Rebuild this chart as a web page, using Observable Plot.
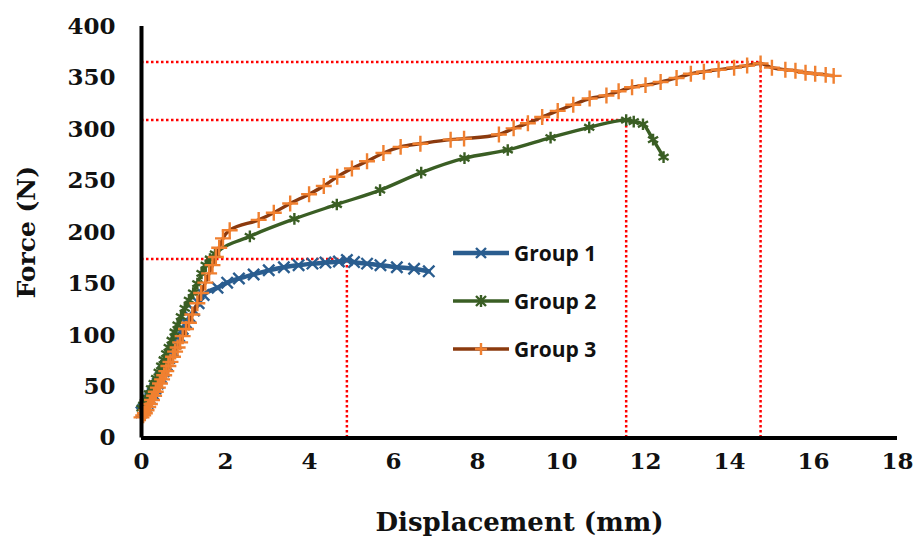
<!DOCTYPE html>
<html>
<head>
<meta charset="utf-8">
<script src="https://cdn.jsdelivr.net/npm/d3@7"></script>
<script src="https://cdn.jsdelivr.net/npm/@observablehq/plot@0.6"></script>
<style>
  html, body { margin: 0; padding: 0; background: #fff; }
  #wrap { position: relative; width: 919px; height: 541px; overflow: hidden; }
  #legend { position: absolute; left: 452px; top: 240px; font-family: "Open Sans", "Liberation Sans", sans-serif; font-weight: 700; font-size: 21px; color: #111; }
  .row { display: flex; align-items: center; height: 26px; margin-bottom: 22px; }
  .row svg { margin-right: 4px; }
</style>
</head>
<body>
<div id="wrap"><div id="legend"></div></div>
<script>
// ---- data (displacement mm, force N) ----
const seriesNames = ["Group 1", "Group 2", "Group 3"];
const lineColors = ["#2A5D8F", "#3A5E24", "#8B3A0E"];
const markerColors = ["#2A5D8F", "#3A5E24", "#F08030"];
const markerSymbols = ["times", "asterisk", "plus"];

const xTicks = [0, 2, 4, 6, 8, 10, 12, 14, 16, 18];
const yTicks = [0, 50, 100, 150, 200, 250, 300, 350, 400];

const group1 = [
  [0, 25], [0.05, 28], [0.1, 31], [0.15, 34], [0.21, 38], [0.27, 43], [0.33, 48], [0.39, 53],
  [0.46, 59], [0.53, 65], [0.6, 71], [0.67, 78], [0.74, 85], [0.82, 92], [0.9, 99], [0.98, 106],
  [1.06, 112], [1.15, 118], [1.25, 124], [1.36, 131], [1.48, 139], [1.81, 146], [2.04, 151],
  [2.32, 155], [2.67, 159], [3.03, 163], [3.39, 166], [3.74, 168], [4.07, 169.5], [4.38, 170.5],
  [4.7, 171.5], [4.89, 173], [5.06, 171], [5.37, 169.5], [5.69, 168], [6.08, 166], [6.49, 164.5],
  [6.84, 162]
];
const group2 = [
  [0, 29], [0.04, 32], [0.08, 35], [0.13, 39], [0.18, 43], [0.23, 48], [0.29, 53], [0.35, 58],
  [0.41, 64], [0.47, 70], [0.53, 76], [0.59, 82], [0.65, 88], [0.72, 95], [0.79, 103], [0.86, 110],
  [0.94, 118], [1.03, 126], [1.13, 134], [1.23, 141], [1.33, 150], [1.43, 160], [1.53, 168],
  [1.63, 174], [1.75, 179], [2.58, 196], [3.64, 213], [4.65, 227], [5.68, 241], [6.66, 258],
  [7.69, 272], [8.72, 280], [9.74, 292], [10.66, 302], [11.54, 309], [11.72, 307.5], [11.94, 305],
  [12.18, 290], [12.43, 273]
];
const group3 = [
  [0, 20], [0.04, 22], [0.08, 24], [0.12, 27], [0.16, 30], [0.2, 33], [0.25, 37], [0.3, 41],
  [0.34, 45], [0.39, 49], [0.44, 53], [0.49, 57], [0.54, 61], [0.59, 65], [0.64, 70], [0.69, 74],
  [0.75, 79], [0.8, 84], [0.86, 88], [0.92, 93], [0.98, 99], [1.06, 106], [1.13, 112], [1.21, 120],
  [1.33, 131], [1.42, 141], [1.52, 151], [1.61, 160], [1.69, 168], [1.77, 176], [1.85, 185],
  [1.94, 194], [2.1, 202], [2.79, 212], [3.15, 219], [3.54, 228], [3.99, 237], [4.34, 245],
  [4.66, 254], [5.01, 262], [5.37, 269], [5.76, 277], [6.17, 283], [6.64, 286], [7.36, 290],
  [7.68, 291], [8.51, 295], [8.86, 301], [9.2, 306], [9.54, 312], [9.91, 318], [10.28, 324],
  [10.67, 330], [11.07, 333], [11.36, 337], [11.68, 341], [12.0, 343], [12.36, 346], [12.74, 350],
  [13.08, 354], [13.39, 356], [13.74, 358], [14.11, 360], [14.42, 362], [14.74, 364], [15.01, 360],
  [15.33, 358], [15.57, 357], [15.81, 355], [16.04, 354], [16.29, 353], [16.48, 352]
];
// peak (max force) reference lines
const peakX = [4.89, 11.54, 14.74];
const peakF = [174, 309, 365.5];

// ---- build tables ----
const groups = [group1, group2, group3];
const peaks = peakX.map((x, i) => ({x, F: peakF[i]}));
const serif = "DejaVu Serif, Liberation Serif, serif";

const seriesMarks = groups.flatMap((g, i) => {
  const rows = g.map(([x, F]) => ({x, F}));
  return [
    Plot.line(rows, {x: "x", y: "F", stroke: lineColors[i], strokeWidth: i === 0 ? 4.5 : 3.4, curve: "monotone-x"}),
    Plot.dot(rows, {x: "x", y: "F", symbol: markerSymbols[i], stroke: markerColors[i], strokeWidth: 2.4, r: i === 1 ? 5.5 : 5.2})
  ];
});

const chart = Plot.plot({
  width: 919,
  height: 541,
  marginLeft: 141,
  marginRight: 22,
  marginTop: 26,
  marginBottom: 103.5,
  x: {domain: [0, 18]},
  y: {domain: [0, 400]},
  style: {fontFamily: serif, fontWeight: "bold", color: "#111", background: "white", overflow: "visible"},
  marks: [
    Plot.axisX({ticks: xTicks, tickSize: 0, tickPadding: 15, fontSize: 23, fontWeight: "bold", label: null}),
    Plot.axisY({ticks: yTicks, tickSize: 0, tickPadding: 26, fontSize: 23, fontWeight: "bold", label: null}),
    Plot.axisX({ticks: [], tickSize: 0, label: "Displacement (mm)", labelAnchor: "center", labelArrow: "none", labelOffset: 93, fontSize: 26, fontWeight: "bold"}),
    Plot.axisY({ticks: [], tickSize: 0, label: "Force (N)", labelAnchor: "center", labelArrow: "none", labelOffset: 124, fontSize: 25, fontWeight: "bold"}),
    Plot.ruleY(peaks, {y: "F", x1: 0, x2: "x", stroke: "#FF0000", strokeWidth: 2.5, strokeDasharray: "2.5,2.5"}),
    Plot.ruleX(peaks, {x: "x", y1: 0, y2: "F", stroke: "#FF0000", strokeWidth: 2.5, strokeDasharray: "2.5,2.5"}),
    ...seriesMarks,
    Plot.ruleX([0], {stroke: "#000", strokeWidth: 4}),
    Plot.ruleY([0], {stroke: "#000", strokeWidth: 4})
  ]
});
document.getElementById("wrap").prepend(chart);

// ---- legend ----
const symbolPaths = {
  times: "M-5,-5L5,5M-5,5L5,-5",
  asterisk: "M-5,-5L5,5M-5,5L5,-5M0,-6L0,6",
  plus: "M-6,0L6,0M0,-6L0,6"
};
const legend = document.getElementById("legend");
seriesNames.forEach((name, i) => {
  const row = document.createElement("div");
  row.className = "row";
  row.innerHTML =
    `<svg width="58" height="20" viewBox="0 0 58 20">` +
    `<line x1="1" y1="10" x2="57" y2="10" stroke="${lineColors[i]}" stroke-width="${i === 0 ? 4.5 : 3.4}"/>` +
    `<path d="${symbolPaths[markerSymbols[i]]}" transform="translate(29,10)" fill="none" stroke="${markerColors[i]}" stroke-width="2.4"/>` +
    `</svg><span>${name}</span>`;
  legend.appendChild(row);
});
</script>
</body>
</html>
